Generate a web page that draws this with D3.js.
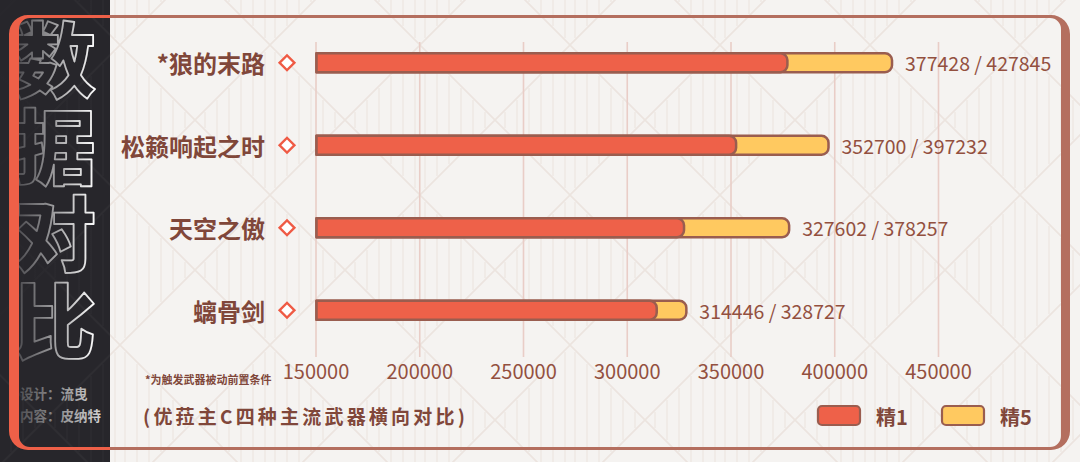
<!DOCTYPE html>
<html><head><meta charset="utf-8">
<script src="https://cdn.jsdelivr.net/npm/d3@7"></script>
<style>html,body{margin:0;padding:0;background:#f5f3f1;}svg{display:block}</style>
</head><body><svg id="c" width="1080" height="462"></svg>
<script>
const categories = ["*狼的末路", "松籁响起之时", "天空之傲", "螭骨剑"];
const refine1 = [377428, 352700, 327602, 314446];
const refine5 = [427845, 397232, 378257, 328727];
const tickValues = [150000, 200000, 250000, 300000, 350000, 400000, 450000];
const seriesNames = ["精1", "精5"];
const titleChars = ["数", "据", "对", "比"];
const credits = ["设计：流曳", "内容：皮纳特"];
const footnote = "*为触发武器被动前置条件";
const subtitle = "(优菈主C四种主流武器横向对比)";

const W = 1080, H = 462;
const svg = d3.select("#c");
const defs = svg.append("defs");
const CJK = "'Noto Sans CJK SC','Noto Sans',sans-serif";
const RED = "#ee6149", YEL = "#ffc960", EDGE = "#9a5d4f", TXT = "#80473a", NUM = "#93503f";
const DARK = "#27262b";

// background pattern (diamond lattice with vertical stripes)
function makePattern(id, color, op) {
  const p = defs.append("pattern").attr("id", id).attr("patternUnits", "userSpaceOnUse")
    .attr("x", 120).attr("y", 45).attr("width", 150).attr("height", 150);
  const g = p.append("g").attr("stroke", color).attr("stroke-width", 1.6).attr("fill", "none").attr("opacity", op);
  g.append("path").attr("d", "M0,0 L150,150 M150,0 L0,150");
  const stripes = [];
  for (let dx = 10; dx < 75; dx += 12) {
    stripes.push(`M${75 - dx},${75 - dx + 2} V${75 + dx - 2}`);
    stripes.push(`M${75 + dx},${75 - dx + 2} V${75 + dx - 2}`);
  }
  g.append("path").attr("d", stripes.join(" ")).attr("stroke-width", 1.1);
}
makePattern("bgp", "#ece4df", 1);
makePattern("dkp", "#ffffff", 0.035);

svg.append("rect").attr("width", W).attr("height", H).attr("fill", "#f5f3f1");
svg.append("rect").attr("width", W).attr("height", H).attr("fill", "url(#bgp)");

// dark panel
svg.append("rect").attr("x", 0).attr("y", 0).attr("width", 110).attr("height", H).attr("fill", DARK);
svg.append("rect").attr("x", 0).attr("y", 0).attr("width", 110).attr("height", H).attr("fill", "url(#dkp)");

// vertical outlined title (single text, vertical writing mode)
svg.append("text")
  .attr("x", 55).attr("y", 19)
  .style("writing-mode", "vertical-rl").style("text-orientation", "upright")
  .attr("letter-spacing", 5)
  .attr("font-family", CJK).attr("font-weight", 900).attr("font-size", 82)
  .attr("fill", "none").attr("stroke", "#ffffff").attr("stroke-width", 1.8)
  .attr("stroke-linejoin", "round")
  .text(titleChars.join(""));

// left-to-right fade over the title
const fg = defs.append("linearGradient").attr("id", "fg").attr("gradientUnits", "userSpaceOnUse")
  .attr("x1", 12).attr("y1", 0).attr("x2", 96).attr("y2", 0);
fg.append("stop").attr("offset", "0").attr("stop-color", DARK).attr("stop-opacity", 0.88);
fg.append("stop").attr("offset", "0.5").attr("stop-color", DARK).attr("stop-opacity", 0.45);
fg.append("stop").attr("offset", "1").attr("stop-color", DARK).attr("stop-opacity", 0);
svg.append("rect").attr("x", 0).attr("y", 0).attr("width", 110).attr("height", 372).attr("fill", "url(#fg)");

const cg = defs.append("linearGradient").attr("id", "cg").attr("gradientUnits", "userSpaceOnUse")
  .attr("x1", 15).attr("y1", 0).attr("x2", 100).attr("y2", 0);
cg.append("stop").attr("offset", "0").attr("stop-color", "#4a4a4e");
cg.append("stop").attr("offset", "1").attr("stop-color", "#d2d2d2");
svg.append("g").selectAll("text").data(credits).join("text")
  .attr("x", 20).attr("y", (d, i) => 393 + i * 22)
  .attr("dominant-baseline", "central")
  .attr("font-family", CJK).attr("font-weight", 700).attr("font-size", 13.5)
  .attr("fill", "url(#cg)").text(d => d);

// frame ring
function rr(x0, y0, x1, y1, r) {
  return `M${x0 + r},${y0} H${x1 - r} A${r},${r} 0 0 1 ${x1},${y0 + r} V${y1 - r} A${r},${r} 0 0 1 ${x1 - r},${y1} H${x0 + r} A${r},${r} 0 0 1 ${x0},${y1 - r} V${y0 + r} A${r},${r} 0 0 1 ${x0 + r},${y0} Z`;
}
const ringD = rr(9, 15, 1070, 450, 19) + " " + rr(19, 18, 1061, 447, 11);
defs.append("clipPath").attr("id", "cl").append("rect").attr("x", 0).attr("y", 0).attr("width", 110).attr("height", H);
defs.append("clipPath").attr("id", "cr").append("rect").attr("x", 110).attr("y", 0).attr("width", W - 110).attr("height", H);
svg.append("path").attr("d", ringD).attr("fill-rule", "evenodd").attr("fill", "#b46f5f").attr("clip-path", "url(#cr)");
svg.append("path").attr("d", ringD).attr("fill-rule", "evenodd").attr("fill", "#ee6048").attr("clip-path", "url(#cl)");

// scales
const x = d3.scaleLinear().domain([150000, 450000]).range([315.5, 938]);
const y = d3.scaleBand().domain(categories).range([21.5, 351.5]).paddingInner(0).paddingOuter(0);
const barH = 19;

// gridlines
const grid = svg.append("g").attr("transform", "translate(0,42)")
  .call(d3.axisBottom(x).tickValues(tickValues).tickSize(315).tickFormat(""));
grid.select(".domain").remove();
grid.selectAll(".tick line").attr("stroke", "#e9cdc7").attr("stroke-width", 1.6);

// tick labels
const ax = svg.append("g").attr("transform", "translate(0,365)")
  .call(d3.axisBottom(x).tickValues(tickValues).tickSize(0).tickPadding(0).tickFormat(d3.format("d")));
ax.select(".domain").remove();
ax.selectAll(".tick text").attr("font-family", CJK).attr("font-size", 20).attr("fill", NUM)
  .attr("dy", "0.72em");

// bars
function barPath(x0, x1, yt, h, r) {
  const rr2 = Math.min(r, (x1 - x0));
  return `M${x0},${yt} H${x1 - rr2} A${rr2},${rr2} 0 0 1 ${x1},${yt + rr2} V${yt + h - rr2} A${rr2},${rr2} 0 0 1 ${x1 - rr2},${yt + h} H${x0} Z`;
}
const rows = categories.map((c, i) => ({ c, v1: refine1[i], v5: refine5[i] }));
const bars = svg.append("g");
rows.forEach(d => {
  const yc = y(d.c) + y.bandwidth() / 2;
  const yt = yc - barH / 2;
  bars.append("path").attr("d", barPath(x(150000) + 1, x(d.v5), yt, barH, 7))
    .attr("fill", YEL).attr("stroke", EDGE).attr("stroke-width", 2.5).attr("stroke-linejoin", "round");
  bars.append("path").attr("d", barPath(x(150000) + 1, x(d.v1), yt, barH, 7))
    .attr("fill", RED).attr("stroke", EDGE).attr("stroke-width", 2.5).attr("stroke-linejoin", "round");
  bars.append("text").attr("x", x(d.v5) + 13).attr("y", yc)
    .attr("dominant-baseline", "central")
    .attr("font-family", CJK).attr("font-size", 19.5).attr("fill", NUM)
    .text(`${d.v1} / ${d.v5}`);
  bars.append("text").attr("x", 265).attr("y", yc)
    .attr("text-anchor", "end").attr("dominant-baseline", "central")
    .attr("font-family", CJK).attr("font-weight", 700).attr("font-size", 24).attr("fill", TXT)
    .text(d.c);
  bars.append("path").attr("d", d3.symbol(d3.symbolSquare, 110)())
    .attr("transform", `translate(287,${yc}) rotate(45)`)
    .attr("fill", "#ffffff").attr("stroke", "#ef5a44").attr("stroke-width", 2.4);
});

// footnote & subtitle
svg.append("text").attr("x", 145).attr("y", 379).attr("dominant-baseline", "central")
  .attr("font-family", CJK).attr("font-weight", 700).attr("font-size", 11).attr("fill", TXT)
  .text(footnote);
svg.append("text").attr("x", 143).attr("y", 415).attr("dominant-baseline", "central")
  .attr("font-family", CJK).attr("font-weight", 700).attr("font-size", 19).attr("letter-spacing", 3.2)
  .attr("fill", TXT).text(subtitle);

// legend
const legend = svg.append("g");
const lx = [818, 942];
[RED, YEL].forEach((col, i) => {
  legend.append("rect").attr("x", lx[i]).attr("y", 406).attr("width", 42).attr("height", 19).attr("rx", 4)
    .attr("fill", col).attr("stroke", EDGE).attr("stroke-width", 2.2);
  legend.append("text").attr("x", lx[i] + 58).attr("y", 416).attr("dominant-baseline", "central")
    .attr("font-family", CJK).attr("font-weight", 700).attr("font-size", 20).attr("fill", TXT)
    .text(seriesNames[i]);
});
</script></body></html>
